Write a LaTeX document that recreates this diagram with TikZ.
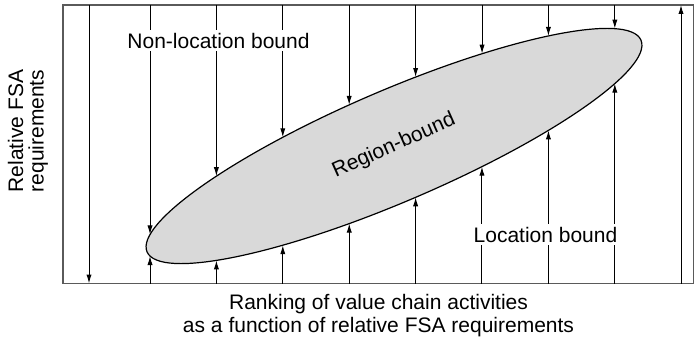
\documentclass[tikz,border=0pt]{standalone}
\usepackage{fontspec}
\setmainfont{Liberation Sans}
\usepackage{xcolor}
\definecolor{framegray}{RGB}{90, 90, 90}
\definecolor{regionfill}{RGB}{217, 217, 217}
\usepackage{tikz}
\usetikzlibrary{arrows.meta, intersections, positioning}

\begin{document}
\begin{tikzpicture}[
    x=1pt, y=1pt,
    font=\fontsize{10.5}{11.5}\selectfont,
    flow/.style={-{Latex[length=4.5pt,width=2.6pt]}, line width=0.5pt},
    tag/.style={fill=white, inner sep=1.5pt}
  ]
  \useasboundingbox (0,0) rectangle (347,171.5);
  \node[draw=framegray, line width=0.9pt, minimum width=315.5pt,
        minimum height=139.25pt, inner sep=0pt, outer sep=0pt]
    (box) at (189.25,99.375) {};
  \coordinate (regc) at (197,98.5);
  \draw[fill=regionfill, line width=0.6pt, name path=reg,
        shift={(regc)}, rotate=23.2]
    (0,0) ellipse [x radius=134.35, y radius=27.85];
  \node[rotate=24] (regl) at (regc) {Region-bound};
  % pressure lines, cut where they meet the region
  \foreach \i in {0,...,7} {
    \pgfmathsetmacro\x{75+33.2*\i}
    \path[name path=v\i] (\x,171.5) -- (\x,0);
    \path[name intersections={of=reg and v\i, sort by=v\i, by={t\i,b\i}}];
    \draw[flow] (box.north -| t\i) -- (t\i);
    \draw[flow] (box.south -| b\i) -- (b\i);
  }
  \draw[flow] ([xshift=13pt]box.north west) -- ([xshift=13pt]box.south west);
  \draw[flow] ([xshift=-6.5pt]box.south east) -- ([xshift=-6.5pt]box.north east);
  \node[tag] (nonloc) at (109.25,151.25) {Non-location bound};
  \node[tag] (loc) at (272.75,54.25) {Location bound};
  \node[rotate=90, align=center, inner sep=0pt,
        font=\fontsize{10.5}{10.2}\selectfont]
    (ylab) at (14,106) {Relative FSA\\requirements};
  \node[below=5pt of box, align=center, inner sep=0pt] (xlab)
    {Ranking of value chain activities\\as a function of relative FSA requirements};
\end{tikzpicture}
\end{document}
